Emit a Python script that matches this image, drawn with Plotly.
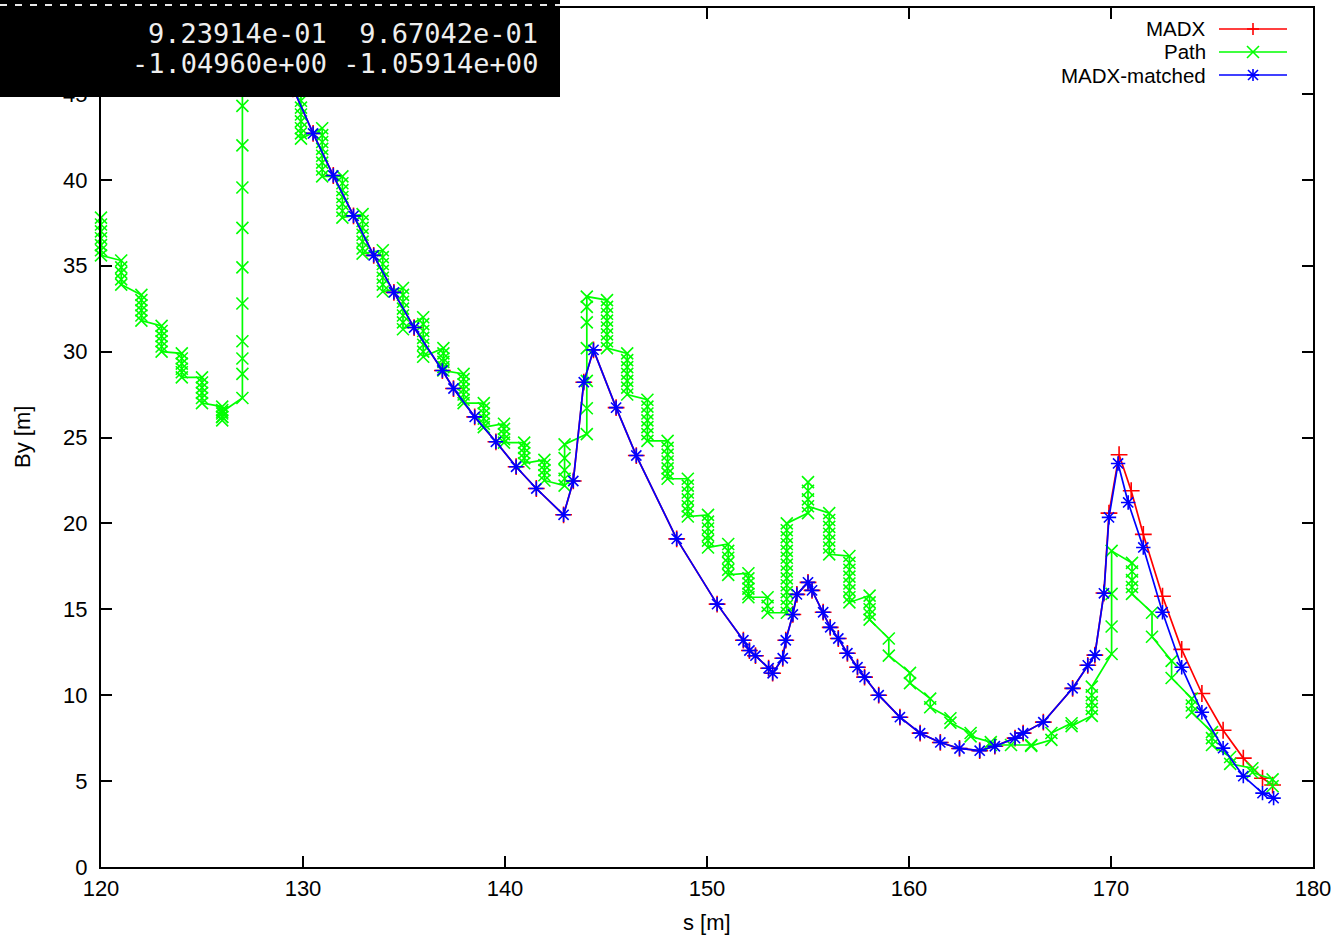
import plotly.graph_objects as go

# ---------------- data ----------------
# MADX-matched (blue, asterisk)
matched_s = [128.5, 129.5, 130.5, 131.5, 132.5, 133.5, 134.5, 135.5, 136.9, 137.45, 138.5, 139.55,
             140.55, 141.55, 142.9, 143.38, 143.9, 144.38, 145.5, 146.5, 148.5, 150.5, 151.8,
             152.1, 152.4, 153.05, 153.25, 153.75, 153.9, 154.25, 154.45, 155.0, 155.2, 155.75,
             156.1, 156.5, 156.95, 157.45, 157.8, 158.5, 159.55, 160.55, 161.55, 162.5, 163.5,
             164.25, 165.25, 165.65, 166.65, 168.1, 168.85, 169.2, 169.65, 169.9, 170.35, 170.85,
             171.6, 172.55, 173.5, 174.5, 175.55, 176.55, 177.5, 178.05]
matched_by = [48.0, 45.3, 42.7, 40.25, 37.9, 35.6, 33.45, 31.4, 28.9, 27.85, 26.2, 24.75,
              23.3, 22.03, 20.5, 22.47, 28.22, 30.1, 26.74, 23.95, 19.1, 15.3, 13.2,
              12.6, 12.3, 11.57, 11.28, 12.15, 13.2, 14.7, 15.87, 16.57, 16.1, 14.83,
              13.95, 13.3, 12.44, 11.63, 11.05, 10.0, 8.72, 7.79, 7.25, 6.9, 6.77,
              7.03, 7.5, 7.79, 8.43, 10.4, 11.74, 12.33, 15.93, 20.35, 23.49, 21.22,
              18.6, 14.83, 11.63, 9.01, 6.92, 5.29, 4.3, 4.01]

# MADX (red, plus) - hidden under the blue curve except after s = 170
madx_s = [128.5, 129.5, 130.5, 131.5, 132.5, 133.5, 134.5, 135.5, 136.9, 137.45, 138.5, 139.55,
          140.55, 141.55, 142.9, 143.38, 143.9, 144.38, 145.5, 146.5, 148.5, 150.5, 151.8,
          152.1, 152.4, 153.05, 153.25, 153.75, 153.9, 154.25, 154.45, 155.0, 155.2, 155.75,
          156.1, 156.5, 156.95, 157.45, 157.8, 158.5, 159.55, 160.55, 161.55, 162.5, 163.5,
          164.25, 165.25, 165.65, 166.65, 168.1, 168.85, 169.2, 169.65, 169.9, 170.4, 171.0,
          171.6, 172.55, 173.5, 174.5, 175.55, 176.55, 177.5, 178.0]
madx_by = [48.0, 45.3, 42.7, 40.25, 37.9, 35.6, 33.45, 31.4, 28.9, 27.85, 26.2, 24.75,
           23.3, 22.03, 20.5, 22.47, 28.22, 30.1, 26.74, 23.95, 19.1, 15.3, 13.2,
           12.6, 12.3, 11.57, 11.28, 12.15, 13.2, 14.7, 15.87, 16.57, 16.1, 14.83,
           13.95, 13.3, 12.44, 11.63, 11.05, 10.0, 8.72, 7.79, 7.25, 6.9, 6.77,
           7.03, 7.5, 7.79, 8.43, 10.4, 11.74, 12.33, 15.95, 20.6, 24.0, 21.9,
           19.36, 15.76, 12.67, 10.1, 7.96, 6.34, 5.17, 4.77]

# Path (green, x) : stations and the By values recorded at each station
path_stations = [120.0, 121.0, 122.0, 123.0, 124.0, 125.0, 126.0, 127.0, 129.9,
                 130.95, 131.95, 132.95, 133.95, 134.95, 135.95, 136.95, 137.95, 138.95,
                 139.95, 140.95, 141.95, 142.95, 144.05, 145.05, 146.05, 147.05, 148.05,
                 149.05, 150.05, 151.05, 152.05, 153.0, 153.95, 155.0, 156.05, 157.05,
                 158.05, 159.0, 160.05, 161.05, 162.05, 163.05, 164.05, 165.05, 166.05,
                 167.05, 168.05, 169.05, 170.03, 171.04, 172.03, 173.0, 174.0, 175.0,
                 175.9, 177.0, 178.0]
path_values = [
    [37.8, 37.4, 37.0, 36.6, 36.2, 35.9, 35.6],
    [35.3, 34.9, 34.6, 34.2, 33.9],
    [33.3, 33.0, 32.7, 32.4, 32.1, 31.8],
    [31.5, 31.2, 30.9, 30.6, 30.3, 30.0],
    [29.9, 29.6, 29.3, 29.0, 28.8, 28.5],
    [28.5, 28.2, 27.9, 27.6, 27.3, 27.0],
    [26.8, 26.6, 26.4, 26.2, 26.0, 26.2, 26.5],
    [27.3, 28.7, 29.6, 30.6, 32.8, 34.9, 37.2, 39.55, 42.0, 44.3, 46.6, 49.0, 51.5],
    [51.0, 48.5, 46.4, 44.6, 44.2, 43.8, 43.4, 43.0, 42.7, 42.4],
    [43.0, 42.6, 42.2, 41.8, 41.4, 41.0, 40.6, 40.2],
    [40.2, 39.8, 39.4, 39.0, 38.6, 38.2, 37.8],
    [38.0, 37.6, 37.2, 36.8, 36.4, 36.0, 35.7],
    [35.9, 35.5, 35.1, 34.7, 34.3, 33.9, 33.5],
    [33.7, 33.3, 32.9, 32.5, 32.1, 31.7, 31.3],
    [32.0, 31.6, 31.2, 30.8, 30.4, 30.0, 29.7],
    [30.2, 29.9, 29.6, 29.4, 29.1, 28.9],
    [28.7, 28.4, 28.1, 27.8, 27.5, 27.2, 27.0],
    [27.0, 26.7, 26.4, 26.1, 25.8, 25.6],
    [25.8, 25.5, 25.2, 24.9, 24.7],
    [24.7, 24.4, 24.1, 23.8, 23.5],
    [23.7, 23.4, 23.1, 22.8, 22.5],
    [22.2, 22.6, 23.1, 23.8, 24.6],
    [25.2, 26.7, 28.3, 30.2, 31.7, 32.6, 33.2],
    [33.0, 32.6, 32.2, 31.8, 31.4, 31.0, 30.6, 30.2],
    [29.9, 29.5, 29.1, 28.7, 28.3, 27.9, 27.5],
    [27.2, 26.8, 26.4, 26.0, 25.6, 25.2, 24.8],
    [24.8, 24.4, 24.0, 23.6, 23.2, 22.9, 22.6],
    [22.6, 22.2, 21.8, 21.4, 21.0, 20.7, 20.4],
    [20.5, 20.1, 19.7, 19.3, 19.0, 18.6],
    [18.8, 18.4, 18.0, 17.7, 17.3, 17.0],
    [17.1, 16.8, 16.5, 16.2, 15.9, 15.7],
    [15.7, 15.2, 14.8],
    [14.8, 15.2, 15.6, 16.0, 16.4, 16.8, 17.2, 17.6, 18.0, 18.4, 18.8, 19.2, 19.6, 20.0],
    [20.6, 21.4, 22.4, 21.9, 21.0],
    [20.6, 20.2, 19.8, 19.4, 19.0, 18.6, 18.2],
    [18.1, 17.7, 17.3, 16.9, 16.5, 16.1, 15.7, 15.4],
    [15.8, 15.4, 15.0, 14.7, 14.4],
    [13.3, 12.3],
    [11.3, 10.7],
    [9.8, 9.3],
    [8.66, 8.4],
    [7.8, 7.6],
    [7.27, 7.1],
    [7.1],
    [7.1, 7.05],
    [7.4, 7.8],
    [8.37, 8.2],
    [8.8, 9.2, 9.6, 10.0, 10.5],
    [12.4, 14.0, 15.9, 18.4],
    [17.7, 17.2, 16.7, 16.3, 15.9],
    [14.8, 13.4],
    [12.0, 11.0],
    [9.8, 9.4, 9.0],
    [7.85, 7.5, 7.1],
    [6.4, 6.0],
    [5.75, 5.5],
    [5.1, 4.7],
]

x_ticks = [120, 130, 140, 150, 160, 170, 180]
y_ticks = [0, 5, 10, 15, 20, 25, 30, 35, 40, 45, 50]

series_names = ["MADX", "Path", "MADX-matched"]
series_colors = ["#ff0000", "#00ff00", "#0000ff"]
series_symbols = ["cross-thin-open", "x-thin-open", "asterisk-open"]

info_lines = ["9.23914e-01  9.67042e-01", "-1.04960e+00 -1.05914e+00"]

# flatten path stations/values
path_s, path_by = [], []
for st, vals in zip(path_stations, path_values):
    for v in vals:
        path_s.append(st)
        path_by.append(v)

# ---------------- figure ----------------
W, H = 1342, 938
L, R, T, B = 101, 1313, 8, 867
PW, PH = R - L, B - T

def px(xp):
    return (xp - L) / PW

def py(yp):
    return (B - yp) / PH

fig = go.Figure()
for name, xs, ys, col, sym in [
    (series_names[0], madx_s, madx_by, series_colors[0], series_symbols[0]),
    (series_names[1], path_s, path_by, series_colors[1], series_symbols[1]),
    (series_names[2], matched_s, matched_by, series_colors[2], series_symbols[2]),
]:
    fig.add_trace(go.Scatter(
        x=xs, y=ys, mode="lines+markers", name=name, showlegend=False,
        line=dict(color=col, width=1.7),
        marker=dict(symbol=sym, size=12, color=col, line=dict(color=col, width=1.6)),
        cliponaxis=False,
    ))

font_main = dict(family="Liberation Sans, Arial, sans-serif", size=22, color="black")
font_legend = dict(family="Liberation Sans, Arial, sans-serif", size=20.5, color="black")

axis_common = dict(
    showline=True, linecolor="black", linewidth=2, mirror="ticks",
    ticks="inside", ticklen=11, tickwidth=2, tickcolor="black",
    showgrid=False, zeroline=False, tickfont=font_main,
)
fig.update_xaxes(range=[120, 180], tickvals=x_ticks, ticktext=[str(v) for v in x_ticks],
                 ticklabelstandoff=1, **axis_common)
fig.update_yaxes(range=[0, 50], tickvals=y_ticks, ticktext=[str(v) for v in y_ticks],
                 ticklabelstandoff=7, **axis_common)

shapes = []
annotations = []

# axis titles
annotations.append(dict(text="s [m]", x=px(707), y=py(922), xref="paper", yref="paper",
                        showarrow=False, font=font_main, xanchor="center", yanchor="middle"))
annotations.append(dict(text="By [m]", x=px(22), y=py(437), xref="paper", yref="paper",
                        showarrow=False, font=font_main, textangle=-90,
                        xanchor="center", yanchor="middle"))

# custom gnuplot style legend (text left of sample)
rows_y = [29, 52, 75]
for i, (name, col) in enumerate(zip(series_names, series_colors)):
    yy = py(rows_y[i])
    annotations.append(dict(text=name, x=px(1207), y=yy, xref="paper", yref="paper",
                            showarrow=False, font=font_legend, xanchor="right", yanchor="middle",
                            borderpad=0))
    shapes.append(dict(type="line", xref="paper", yref="paper", x0=px(1219), x1=px(1287),
                       y0=yy, y1=yy, line=dict(color=col, width=1.7)))
    cx = px(1253)
    if i == 0:
        segs = [(-6, 0, 6, 0), (0, -6, 0, 6)]
    elif i == 1:
        segs = [(-6, -6, 6, 6), (-6, 6, 6, -6)]
    else:
        segs = [(-6, 0, 6, 0), (0, -6, 0, 6), (-5, -5, 5, 5), (-5, 5, 5, -5)]
    for (a, b, c, d) in segs:
        shapes.append(dict(type="line", xref="paper", yref="paper",
                           xsizemode="pixel", ysizemode="pixel", xanchor=cx, yanchor=yy,
                           x0=a, x1=c, y0=b, y1=d, line=dict(color=col, width=1.6)))

# black info box in the top-left corner
shapes.append(dict(type="rect", xref="paper", yref="paper", layer="above",
                   x0=px(0), x1=px(560), y0=py(97), y1=py(0),
                   fillcolor="black", line=dict(width=0)))
shapes.append(dict(type="line", xref="paper", yref="paper", layer="above",
                   x0=px(0), x1=px(560), y0=py(5), y1=py(5),
                   line=dict(color="#e8e8e8", width=2, dash="7px,8px")))
for txt, yline in zip(info_lines, [34, 64]):
    annotations.append(dict(text=txt.replace(" ", "&nbsp;"), x=px(540), y=py(yline),
                            xref="paper", yref="paper", showarrow=False,
                            xanchor="right", yanchor="middle",
                            font=dict(family="DejaVu Sans Mono, monospace", size=27, color="#eeeeee")))

fig.update_layout(
    width=W, height=H,
    margin=dict(l=L, r=W - R, t=T, b=H - B, autoexpand=False),
    paper_bgcolor="white", plot_bgcolor="white",
    showlegend=False,
    shapes=shapes, annotations=annotations,
)

fig.write_html("out.html")
